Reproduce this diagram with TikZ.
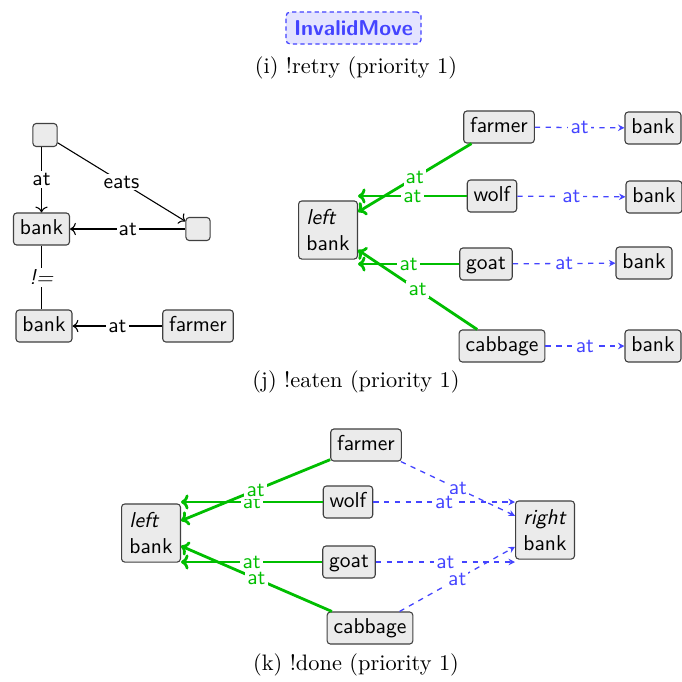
\documentclass[tikz,border=0pt]{standalone}
\usetikzlibrary{arrows.meta,calc}
\definecolor{grn}{RGB}{0,190,0}
\definecolor{blu}{RGB}{68,68,255}
\definecolor{nfill}{RGB}{235,235,235}
\definecolor{invfill}{RGB}{228,228,255}
\begin{document}
\begin{tikzpicture}[x=0.465pt,y=-0.465pt,
  font=\sffamily,
  box/.style={draw=black!75,fill=nfill,rounded corners=1.5pt,line width=0.5pt,inner xsep=3pt,inner ysep=0pt,minimum height=14.9pt,text height=1.55ex,text depth=.3ex},
  ebox/.style={draw=black!75,fill=nfill,rounded corners=1.5pt,line width=0.5pt,minimum width=11.2pt,minimum height=10.7pt,inner sep=0pt},
  bbox/.style={draw=black!75,fill=nfill,rounded corners=1.5pt,line width=0.5pt,align=left,inner sep=3pt,minimum width=27.4pt,minimum height=27pt},
  lbl/.style={fill=white,inner sep=1pt},
  blk/.style={->,line width=0.5pt},
  gedge/.style={-{To[length=3.5pt,width=7pt]},draw=grn,line width=1.3pt},
  glbl/.style={lbl,text=grn},
  bedge/.style={-{Stealth[length=3pt,width=3pt]},draw=blu,line width=0.6pt,dash pattern=on 2.5pt off 2.5pt},
  blbl/.style={lbl,text=blu},
  captxt/.style={font=\fontsize{10.4}{12}\selectfont\rmfamily},
  inv/.style={draw=blu,fill=invfill,dash pattern=on 2pt off 1.5pt,rounded corners=2pt,line width=0.6pt,text=blu,font=\sffamily\bfseries,minimum width=62.8pt,minimum height=14.9pt,inner sep=2pt}
]
\useasboundingbox (0,0) rectangle (682,681);

% ---- (i)
\node[inv] (inv) at (353.5,28) {InvalidMove};
\node[captxt] (capi) at (356,68) {(i) !retry (priority 1)};

% ---- (i) pattern
\node[ebox] (t1) at (45,135) {};
\node[ebox] (t2) at (198,229) {};
\node[box] (b1) at (41.5,229) {bank};
\node[box] (b2) at (44,326) {bank};
\node[box] (fa) at (198,326) {farmer};
\draw[blk] (t1.south -| b1.north) -- node[lbl]{at} (b1.north);
\draw[blk] (t1) -- node[lbl]{eats} (t2);
\draw[blk] (t2) -- node[lbl]{at} (b1);
\draw[line width=0.5pt] (b1.south) -- node[lbl]{\textit{!=}} (b1.south |- b2.north);
\draw[blk] (fa) -- node[lbl]{at} (b2);

% ---- (j)
\node[bbox] (jl) at (328,230) {\textit{left}\\bank};
\node[box] (jf) at (499,127) {farmer};
\node[box] (jw) at (492,196) {wolf};
\node[box] (jg) at (486,264) {goat};
\node[box] (jc) at (502,346) {cabbage};
\node[box] (jb1) at (653,128) {bank};
\node[box] (jb2) at (654,197) {bank};
\node[box] (jb3) at (644,263) {bank};
\node[box] (jb4) at (653,346) {bank};
\draw[gedge] (jw) -- node[glbl]{at} (jw -| jl.east);
\draw[gedge] (jf) -- node[glbl]{at} (jl);
\draw[gedge] (jg) -- node[glbl]{at} (jg -| jl.east);
\draw[gedge] (jc) -- node[glbl]{at} (jl);
\draw[bedge] (jf) -- node[blbl]{at} (jb1);
\draw[bedge] (jw) -- node[blbl]{at} (jb2);
\draw[bedge] (jg) -- node[blbl]{at} (jb3);
\draw[bedge] (jc) -- node[blbl]{at} (jb4);
\node[captxt] (capj) at (356,382) {(j) !eaten (priority 1)};

% ---- (k)
\node[bbox] (kl) at (151,533) {\textit{left}\\bank};
\node[bbox] (kr) at (545,530) {\textit{right}\\bank};
\node[box] (kf) at (366,445) {farmer};
\node[box] (kw) at (348,502) {wolf};
\node[box] (kg) at (349,562) {goat};
\node[box] (kc) at (370,628) {cabbage};
\draw[gedge] (kw) -- node[glbl]{at} (kw -| kl.east);
\draw[gedge] (kf) -- node[glbl]{at} (kl);
\draw[gedge] (kg) -- node[glbl]{at} (kg -| kl.east);
\draw[gedge] (kc) -- node[glbl]{at} (kl);
\draw[bedge] (kf) -- node[blbl]{at} (kr);
\draw[bedge] (kw) -- node[blbl]{at} (kw -| kr.west);
\draw[bedge] (kg) -- node[blbl]{at} (kg -| kr.west);
\draw[bedge] (kc) -- node[blbl]{at} (kr);
\node[captxt] (capk) at (356,665) {(k) !done (priority 1)};
\end{tikzpicture}
\end{document}
